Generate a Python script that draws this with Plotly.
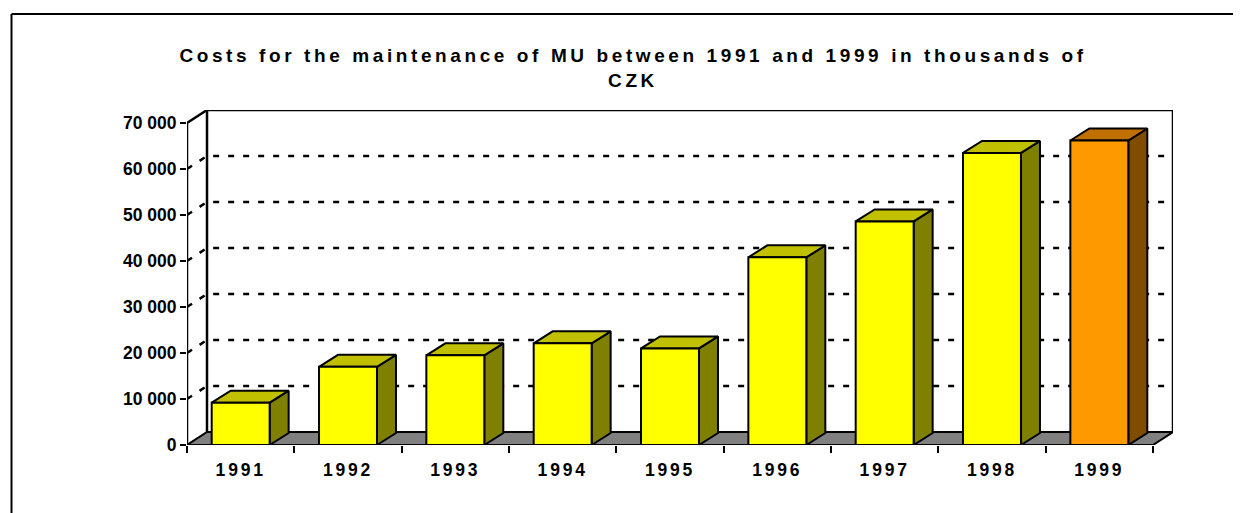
import plotly.graph_objects as go

# ---------------- data ----------------
years = ["1991", "1992", "1993", "1994", "1995", "1996", "1997", "1998", "1999"]
costs = [9200, 17000, 19500, 22100, 21000, 40800, 48600, 63500, 66200]
y_tick_vals = [0, 10000, 20000, 30000, 40000, 50000, 60000, 70000]
y_tick_text = ["0", "10 000", "20 000", "30 000", "40 000", "50 000", "60 000", "70 000"]
title_text = "Costs for the maintenance of MU between 1991 and 1999 in thousands of<br>CZK"
highlight_index = 8

# ---------------- style / geometry ----------------
FONT = "Liberation Sans, Arial, sans-serif"
PX_PER_CAT = 107.3
PX_PER_UNIT = 0.0046
Y_MAX = 70000
BAR_HALF = 0.27
WALL_DX = 20 / PX_PER_CAT
WALL_DY = 13 / PX_PER_UNIT
BAR_DX = 19 / PX_PER_CAT
BAR_DY = 12 / PX_PER_UNIT

FRONT = "#FFFF00"; TOP = "#C0C000"; SIDE = "#808000"
FRONT_H = "#FF9900"; TOP_H = "#C07000"; SIDE_H = "#804C00"
FLOOR = "#808080"

n = len(years)
x_lo = -0.5
x_hi = n - 0.5

fig = go.Figure()

def poly(xs, ys, fill, width=2):
    fig.add_trace(go.Scatter(
        x=xs + [xs[0]], y=ys + [ys[0]], mode="lines", fill="toself",
        fillcolor=fill, line=dict(color="black", width=width),
        hoverinfo="skip", showlegend=False))

def line(xs, ys, width=2, dash="solid"):
    fig.add_trace(go.Scatter(
        x=xs, y=ys, mode="lines", line=dict(color="black", width=width, dash=dash),
        hoverinfo="skip", showlegend=False))

# gridlines on side wall + back wall
gx, gy = [], []
for v in y_tick_vals[1:-1]:
    gx += [x_lo, x_lo + WALL_DX, x_hi + WALL_DX, None]
    gy += [v, v + WALL_DY, v + WALL_DY, None]
line(gx, gy, width=2.5, dash="6px,9px")

# back wall edges
line([x_lo + WALL_DX, x_lo + WALL_DX, x_hi + WALL_DX, x_hi + WALL_DX],
     [WALL_DY, Y_MAX + WALL_DY, Y_MAX + WALL_DY, WALL_DY], width=2.5)

# floor
poly([x_lo, x_hi, x_hi + WALL_DX, x_lo + WALL_DX], [0, 0, WALL_DY, WALL_DY], FLOOR)

# y axis line + top diagonal
line([x_lo, x_lo, x_lo + WALL_DX], [0, Y_MAX, Y_MAX + WALL_DY], width=2.5)

# bars
for i, v in enumerate(costs):
    f, t, s = (FRONT_H, TOP_H, SIDE_H) if i == highlight_index else (FRONT, TOP, SIDE)
    xl, xr = i - BAR_HALF, i + BAR_HALF
    poly([xr, xr + BAR_DX, xr + BAR_DX, xr], [0, BAR_DY, v + BAR_DY, v], s)
    poly([xl, xr, xr + BAR_DX, xl + BAR_DX], [v, v, v + BAR_DY, v + BAR_DY], t)
    poly([xl, xr, xr, xl], [0, 0, v, v], f)

L, R, T, B = 187, 70, 110, 68
W, H = 1243, 513
pw, ph = W - L - R, H - T - B

fig.update_layout(
    width=W, height=H,
    margin=dict(l=L, r=R, t=T, b=B),
    paper_bgcolor="white", plot_bgcolor="white",
    title=dict(text=title_text, x=633 / W, xref="container", xanchor="center",
               y=1 - 62 / H, yanchor="top",
               font=dict(family=FONT, size=19, color="black", weight="bold")),
    xaxis=dict(range=[x_lo, x_hi + WALL_DX], showgrid=False, zeroline=False,
               showline=False, tickmode="array", tickvals=list(range(n)),
               ticktext=years, ticks="", ticklabelstandoff=12,
               tickfont=dict(family=FONT, size=17.5, color="black", weight="bold"),
               minor=dict(tickmode="array", tickvals=[k - 0.5 for k in range(n + 1)],
                          ticks="outside", ticklen=7, tickwidth=2, tickcolor="black",
                          showgrid=False)),
    yaxis=dict(range=[0, Y_MAX + WALL_DY], showgrid=False, zeroline=False,
               showline=False, tickmode="array", tickvals=y_tick_vals,
               ticktext=y_tick_text, ticks="outside", ticklen=6, tickwidth=2,
               tickcolor="black",
               tickfont=dict(family=FONT, size=17.5, color="black", weight="bold")),
    shapes=[
        dict(type="line", xref="paper", yref="paper",
             x0=(11.5 - L) / pw, x1=(11.5 - L) / pw,
             y0=(H - B - 14) / ph, y1=(H - B - 520) / ph,
             line=dict(color="black", width=2)),
        dict(type="line", xref="paper", yref="paper",
             x0=(11.5 - L) / pw, x1=(1233 - L) / pw,
             y0=(H - B - 14) / ph, y1=(H - B - 14) / ph,
             line=dict(color="black", width=2)),
    ],
)

page_css = ("body{margin:0;} "
            ".gtitle{letter-spacing:3.6px;} "
            ".xtick text{letter-spacing:2.8px;} ")
post = ("var s=document.createElement('style');"
        "s.innerHTML='" + page_css + "';"
        "document.head.appendChild(s);")

fig.write_html("out.html", post_script=post, config={"displayModeBar": False})
